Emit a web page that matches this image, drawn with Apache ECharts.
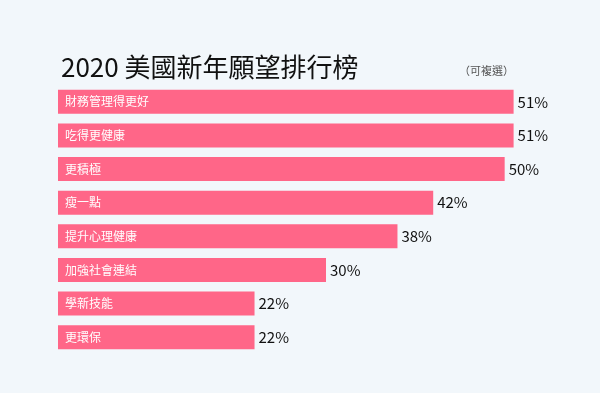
<!DOCTYPE html>
<html><head><meta charset="utf-8">
<script src="https://cdn.jsdelivr.net/npm/echarts@6/dist/echarts.min.js"></script>
<style>html,body{margin:0;padding:0;background:#f2f7fb;}#c{width:600px;height:393px;}</style>
</head><body><div id="c"></div>
<script>
const categories = ['財務管理得更好','吃得更健康','更積極','瘦一點','提升心理健康','加強社會連結','學新技能','更環保'];
const values = [51, 51, 50, 42, 38, 30, 22, 22];
const titleText = '2020 美國新年願望排行榜';
const noteText = '（可複選）';
const font = '"Noto Sans CJK TC","Noto Sans",sans-serif';
const chart = echarts.init(document.getElementById('c'));
chart.setOption({
  backgroundColor: '#f2f7fb',
  animation: false,
  title: [
    {text: titleText, left: 56, top: 49, textStyle: {fontFamily: font, fontSize: 26, fontWeight: 'normal', color: '#111'}},
    {text: noteText, left: 454, top: 60, textStyle: {fontFamily: font, fontSize: 11, fontWeight: 'normal', color: '#555'}}
  ],
  grid: {left: 58, width: 536, top: 85, height: 269},
  xAxis: {type: 'value', min: 0, max: 60, show: false},
  yAxis: {type: 'category', data: categories, inverse: true, show: false},
  series: [{
    type: 'bar', data: values, barWidth: 24,
    itemStyle: {color: '#ff6688'},
    label: {show: true, position: 'insideLeft', distance: 7, formatter: p => categories[p.dataIndex], color: '#fff', fontFamily: font, fontSize: 12},
  }, {
    type: 'bar', data: values, barWidth: 24, barGap: '-100%',
    itemStyle: {color: 'transparent'},
    label: {show: true, position: 'right', distance: 4, formatter: '{c}%', color: '#111', fontFamily: font, fontSize: 15}
  }]
});
</script></body></html>
